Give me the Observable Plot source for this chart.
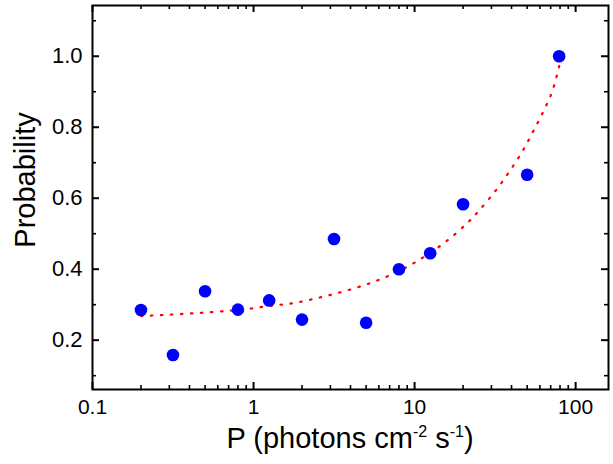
<!DOCTYPE html>
<html>
<head>
<meta charset="utf-8">
<script src="https://cdn.jsdelivr.net/npm/d3@7"></script>
<script src="https://cdn.jsdelivr.net/npm/@observablehq/plot@0.6"></script>
<style>
  html, body { margin: 0; padding: 0; background: #fff; }
  svg { display: block; }
</style>
</head>
<body>
<div id="chart"></div>
<script>
// Measured data points
const photonFlux = [0.2, 0.316, 0.5, 0.8, 1.25, 2, 3.16, 5, 8, 12.5, 20, 50, 79];
const probability = [0.285, 0.158, 0.338, 0.286, 0.312, 0.258, 0.485, 0.249, 0.400, 0.445, 0.583, 0.666, 1.0];

// Fit curve
const fitP = [0.2, 0.305, 0.469, 0.716, 0.954, 1.27, 1.69, 2.25, 2.97, 3.94, 5.25, 6.96, 9.27, 12.3, 16.4, 21.8, 25.0, 31.7, 38.9, 46.7, 54.6, 63.0, 71.6, 80];
const fitY = [0.268, 0.272, 0.277, 0.283, 0.289, 0.297, 0.303, 0.314, 0.327, 0.342, 0.360, 0.382, 0.410, 0.444, 0.485, 0.535, 0.564, 0.620, 0.676, 0.732, 0.789, 0.844, 0.901, 0.982];

// Tick values
const xMajor = [0.1, 1, 10, 100];
const xMinor = [0.2, 0.3, 0.4, 0.5, 0.6, 0.7, 0.8, 0.9, 2, 3, 4, 5, 6, 7, 8, 9, 20, 30, 40, 50, 60, 70, 80, 90];
const yMajor = [0.2, 0.4, 0.6, 0.8, 1.0];
const yMinor = [0.1, 0.3, 0.5, 0.7, 0.9, 1.1];
const xTickLabels = {0.1: "0.1", 1: "1", 10: "10", 100: "100"};

const W = 613, H = 464;
const mL = 92, mR = 5, mT = 5, mB = 75;
const pw = W - mL - mR, ph = H - mT - mB;

const points = photonFlux.map((p, i) => ({p, v: probability[i]}));
const fit = fitP.map((p, i) => ({p, v: fitY[i]}));

const font = "'Liberation Sans', Arial, sans-serif";

const chart = Plot.plot({
  width: W, height: H,
  marginLeft: mL, marginRight: mR, marginTop: mT, marginBottom: mB,
  style: {fontFamily: font, background: "#fff", color: "#000"},
  x: {type: "log", domain: [0.1, 160]},
  y: {domain: [0.061, 1.143]},
  marks: [
    Plot.line(fit, {x: "p", y: "v", stroke: "#ff0000", strokeWidth: 2.2, strokeDasharray: "1.5,8.5", curve: "catmull-rom"}),
    Plot.dot(points, {x: "p", y: "v", r: 6.3, fill: "#0000ff", stroke: "none"}),
    // inward ticks
    Plot.tickX(xMajor, {x: d => d, insetTop: ph - 7, stroke: "#000", strokeWidth: 2}),
    Plot.tickX(xMajor, {x: d => d, insetBottom: ph - 7, stroke: "#000", strokeWidth: 2}),
    Plot.tickX(xMinor, {x: d => d, insetTop: ph - 4, stroke: "#000", strokeWidth: 1.6}),
    Plot.tickX(xMinor, {x: d => d, insetBottom: ph - 4, stroke: "#000", strokeWidth: 1.6}),
    Plot.tickY(yMajor, {y: d => d, insetRight: pw - 7, stroke: "#000", strokeWidth: 2}),
    Plot.tickY(yMajor, {y: d => d, insetLeft: pw - 7, stroke: "#000", strokeWidth: 2}),
    Plot.tickY(yMinor, {y: d => d, insetRight: pw - 4, stroke: "#000", strokeWidth: 1.6}),
    Plot.tickY(yMinor, {y: d => d, insetLeft: pw - 4, stroke: "#000", strokeWidth: 1.6}),
    Plot.axisX({ticks: xMajor, tickFormat: d => xTickLabels[d] ?? String(d), tickSize: 0, tickPadding: 10, fontSize: 21, label: null}),
    Plot.axisY({ticks: yMajor, tickFormat: d3.format(".1f"), tickSize: 0, tickPadding: 10, fontSize: 22, label: null}),
    Plot.frame({stroke: "#000", strokeWidth: 2})
  ]
});

document.getElementById("chart").appendChild(chart);

// Axis titles (with superscripts)
const svg = d3.select(chart);
const xt = svg.append("text")
  .attr("x", mL + pw / 2).attr("y", 448)
  .attr("text-anchor", "middle")
  .attr("font-family", font).attr("font-size", 29).attr("fill", "#000");
xt.append("tspan").text("P (photons cm");
xt.append("tspan").attr("dy", -11).attr("font-size", 16).text("-2");
xt.append("tspan").attr("dy", 11).text(" s");
xt.append("tspan").attr("dy", -11).attr("font-size", 16).text("-1");
xt.append("tspan").attr("dy", 11).text(")");

svg.append("text")
  .attr("transform", "translate(35,180) rotate(-90)")
  .attr("text-anchor", "middle")
  .attr("font-family", font).attr("font-size", 29).attr("fill", "#000")
  .text("Probability");
</script>
</body>
</html>
